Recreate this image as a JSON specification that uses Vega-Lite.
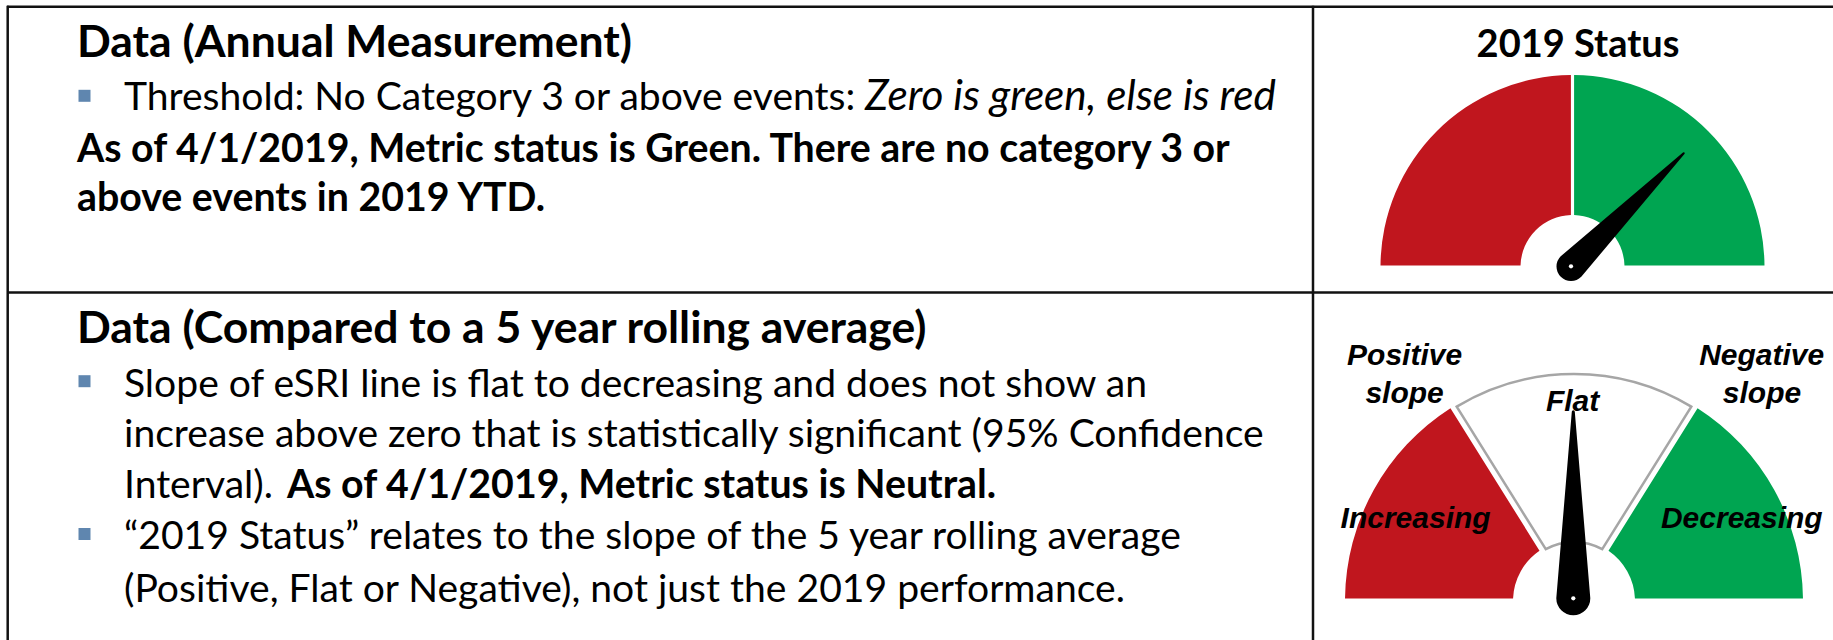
{
  "$schema": "https://vega.github.io/schema/vega-lite/v6.json",
  "width": 1833,
  "height": 640,
  "padding": 0,
  "autosize": {"type": "none"},
  "background": "white",
  "view": {"stroke": null},
  "datasets": {
    "frame": [
      {"x": 7, "y": 6.7, "x2": 1833, "y2": 6.7},
      {"x": 7.7, "y": 5.7, "x2": 7.7, "y2": 640},
      {"x": 7, "y": 292.5, "x2": 1833, "y2": 292.5},
      {"x": 1313, "y": 5.7, "x2": 1313, "y2": 640}
    ],
    "gauge1": [
      {"seg": "red", "cx": 1572.5, "cy": 267, "t0": -90, "t1": 0},
      {"seg": "green", "cx": 1572.5, "cy": 267, "t0": 0, "t1": 90}
    ],
    "gauge2": [
      {"seg": "red", "cx": 1574, "cy": 601, "t0": -90, "t1": -32},
      {"seg": "green", "cx": 1574, "cy": 601, "t0": 32, "t1": 90}
    ],
    "gauge2flat": [
      {"seg": "white", "cx": 1574, "cy": 601, "t0": -32, "t1": 32}
    ],
    "needles": [
      {"g": "g1", "part": "g1base", "ord": 0, "x": 1571, "y": 266.5},
      {"g": "g1", "part": "g1tip", "ord": 1, "x": 1683.7, "y": 153.3},
      {"g": "g2", "part": "g2base", "ord": 0, "x": 1573.3, "y": 598.3},
      {"g": "g2", "part": "g2tip", "ord": 1, "x": 1573.3, "y": 411.7}
    ],
    "pivots": [
      {"x": 1571, "y": 266.3},
      {"x": 1573.3, "y": 598.3}
    ],
    "bullets": [
      {"x": 84.5, "y": 95.8},
      {"x": 84.5, "y": 381.2},
      {"x": 84.5, "y": 534}
    ],
    "titles": [
      {"x": 77, "y": 56.7, "text": "Data (Annual Measurement)"},
      {"x": 77, "y": 343.3, "text": "Data (Compared to a 5 year rolling average)"}
    ],
    "body": [
      {"x": 124, "y": 110, "text": "Threshold: No Category 3 or above events:"},
      {"x": 124, "y": 397.3, "text": "Slope of eSRI line is flat to decreasing and does not show an"},
      {"x": 124, "y": 447.3, "text": "increase above zero that is statistically significant (95% Confidence"},
      {"x": 124, "y": 498.3, "text": "Interval)."},
      {"x": 124, "y": 549.3, "text": "“2019 Status” relates to the slope of the 5 year rolling average"},
      {"x": 124, "y": 601.7, "text": "(Positive, Flat or Negative), not just the 2019 performance."}
    ],
    "italic": [
      {"x": 865, "y": 110, "text": "Zero is green, else is red"}
    ],
    "boldbody": [
      {"x": 77, "y": 161.7, "text": "As of 4/1/2019, Metric status is Green. There are no category 3 or"},
      {"x": 77, "y": 211, "text": "above events in 2019 YTD."},
      {"x": 287, "y": 498.3, "text": "As of 4/1/2019, Metric status is Neutral."}
    ],
    "status": [
      {"x": 1578, "y": 56.7, "text": "2019 Status"}
    ],
    "labels": [
      {"x": 1404.6, "y": 365, "text": "Positive"},
      {"x": 1404.6, "y": 403.3, "text": "slope"},
      {"x": 1761.7, "y": 365, "text": "Negative"},
      {"x": 1762, "y": 403.3, "text": "slope"},
      {"x": 1572.6, "y": 410.7, "text": "Flat"},
      {"x": 1415.6, "y": 528.3, "text": "Increasing"},
      {"x": 1741.8, "y": 528.3, "text": "Decreasing"}
    ]
  },
  "layer": [
    {
      "data": {"name": "frame"},
      "mark": {"type": "rule", "color": "#111111", "strokeWidth": 2.5},
      "encoding": {
        "x": {"field": "x", "type": "quantitative", "scale": {"domain": [0, 1833], "nice": false, "zero": false}, "axis": null},
        "y": {"field": "y", "type": "quantitative", "scale": {"domain": [0, 640], "nice": false, "zero": false, "reverse": true}, "axis": null},
        "x2": {"field": "x2"},
        "y2": {"field": "y2"}
      }
    },
    {
      "data": {"name": "gauge1"},
      "mark": {"type": "arc", "radius": 192, "radius2": 52, "padAngle": 0.016},
      "encoding": {
        "x": {"field": "cx", "type": "quantitative"},
        "y": {"field": "cy", "type": "quantitative"},
        "theta": {"field": "t0", "type": "quantitative", "stack": null, "scale": {"domain": [-180, 180], "range": [-3.14159265, 3.14159265]}},
        "theta2": {"field": "t1"},
        "color": {"field": "seg", "type": "nominal", "scale": {"domain": ["red", "green"], "range": ["#C0161E", "#00A551"]}, "legend": null}
      }
    },
    {
      "data": {"name": "gauge2"},
      "mark": {"type": "arc", "radius": 229, "radius2": 61, "padAngle": 0.022},
      "encoding": {
        "x": {"field": "cx", "type": "quantitative"},
        "y": {"field": "cy", "type": "quantitative"},
        "theta": {"field": "t0", "type": "quantitative", "stack": null, "scale": {"domain": [-180, 180], "range": [-3.14159265, 3.14159265]}},
        "theta2": {"field": "t1"},
        "color": {"field": "seg", "type": "nominal", "scale": {"domain": ["red", "green"], "range": ["#C0161E", "#00A551"]}, "legend": null}
      }
    },
    {
      "data": {"name": "gauge2flat"},
      "mark": {"type": "arc", "radius": 227, "radius2": 59, "padAngle": 0.03, "fill": "white", "stroke": "#A6A6A6", "strokeWidth": 2.5},
      "encoding": {
        "x": {"field": "cx", "type": "quantitative"},
        "y": {"field": "cy", "type": "quantitative"},
        "theta": {"field": "t0", "type": "quantitative", "stack": null, "scale": {"domain": [-180, 180], "range": [-3.14159265, 3.14159265]}},
        "theta2": {"field": "t1"}
      }
    },
    {
      "data": {"name": "needles"},
      "mark": {"type": "trail", "color": "black"},
      "encoding": {
        "x": {"field": "x", "type": "quantitative"},
        "y": {"field": "y", "type": "quantitative"},
        "detail": {"field": "g", "type": "nominal"},
        "order": {"field": "ord", "type": "quantitative"},
        "size": {"field": "part", "type": "ordinal", "scale": {"type": "ordinal", "domain": ["g1base", "g1tip", "g2base", "g2tip"], "range": [29, 2, 34, 3]}, "legend": null}
      }
    },
    {
      "data": {"name": "pivots"},
      "mark": {"type": "point", "filled": true, "color": "white", "opacity": 1, "size": 18},
      "encoding": {
        "x": {"field": "x", "type": "quantitative"},
        "y": {"field": "y", "type": "quantitative"}
      }
    },
    {
      "data": {"name": "bullets"},
      "mark": {"type": "point", "shape": "square", "filled": true, "color": "#5F86AF", "opacity": 1, "size": 144},
      "encoding": {
        "x": {"field": "x", "type": "quantitative"},
        "y": {"field": "y", "type": "quantitative"}
      }
    },
    {
      "data": {"name": "titles"},
      "mark": {"type": "text", "font": "Lato", "fontWeight": "bold", "fontSize": 44.5, "align": "left", "baseline": "alphabetic", "color": "black"},
      "encoding": {
        "x": {"field": "x", "type": "quantitative"},
        "y": {"field": "y", "type": "quantitative"},
        "text": {"field": "text"}
      }
    },
    {
      "data": {"name": "body"},
      "mark": {"type": "text", "font": "Lato", "fontSize": 39.1, "align": "left", "baseline": "alphabetic", "color": "black"},
      "encoding": {
        "x": {"field": "x", "type": "quantitative"},
        "y": {"field": "y", "type": "quantitative"},
        "text": {"field": "text"}
      }
    },
    {
      "data": {"name": "italic"},
      "mark": {"type": "text", "font": "Lato", "fontStyle": "italic", "fontSize": 42.3, "align": "left", "baseline": "alphabetic", "color": "black"},
      "encoding": {
        "x": {"field": "x", "type": "quantitative"},
        "y": {"field": "y", "type": "quantitative"},
        "text": {"field": "text"}
      }
    },
    {
      "data": {"name": "boldbody"},
      "mark": {"type": "text", "font": "Lato", "fontWeight": "bold", "fontSize": 39.3, "align": "left", "baseline": "alphabetic", "color": "black"},
      "encoding": {
        "x": {"field": "x", "type": "quantitative"},
        "y": {"field": "y", "type": "quantitative"},
        "text": {"field": "text"}
      }
    },
    {
      "data": {"name": "status"},
      "mark": {"type": "text", "font": "Lato", "fontWeight": "bold", "fontSize": 38, "align": "center", "baseline": "alphabetic", "color": "black"},
      "encoding": {
        "x": {"field": "x", "type": "quantitative"},
        "y": {"field": "y", "type": "quantitative"},
        "text": {"field": "text"}
      }
    },
    {
      "data": {"name": "labels"},
      "mark": {"type": "text", "font": "Liberation Sans", "fontWeight": "bold", "fontStyle": "italic", "fontSize": 30, "align": "center", "baseline": "alphabetic", "color": "black"},
      "encoding": {
        "x": {"field": "x", "type": "quantitative"},
        "y": {"field": "y", "type": "quantitative"},
        "text": {"field": "text"}
      }
    }
  ]
}
